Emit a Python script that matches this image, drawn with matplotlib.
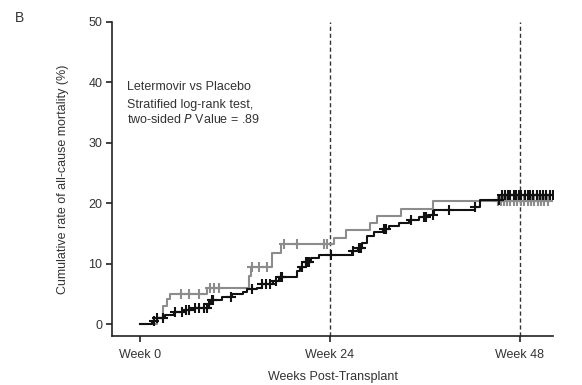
import numpy as np
import matplotlib.pyplot as plt

plt.rcParams['font.family'] = ['Liberation Sans', 'DejaVu Sans']

# Kaplan-Meier style cumulative mortality (%), step after each time
let_weeks = [0, 1.6, 2.2, 3.2, 4.3, 5.8, 7.0, 8.7, 9.0, 10.4, 11.7, 13.0, 13.6, 14.8,
             15.5, 16.8, 17.6, 19.8, 20.2, 21.0, 21.6, 22.7, 26.8, 27.5, 28.1, 28.7,
             29.6, 30.7, 31.5, 32.8, 34.0, 35.3, 36.4, 37.2, 42.3, 43.0, 45.7, 52.2]
let_rate = [0, 0.5, 1.0, 1.5, 2.0, 2.3, 2.7, 3.3, 3.9, 4.4, 4.9, 5.3, 5.8, 6.0,
            6.6, 7.2, 7.8, 8.7, 9.4, 10.2, 10.9, 11.5, 12.1, 12.6, 13.4, 14.6,
            15.2, 15.7, 16.3, 16.8, 17.2, 17.7, 18.1, 18.8, 19.4, 20.5, 21.4, 21.4]

pla_weeks = [0, 2.2, 3.0, 3.4, 3.8, 8.5, 13.8, 14.1, 16.7, 17.8, 24.5, 26.0, 29.1,
             30.0, 33.0, 37.0, 51.8]
pla_rate = [0, 1.0, 3.0, 4.1, 5.0, 6.0, 8.0, 9.5, 11.8, 13.2, 14.3, 15.6, 16.7,
            17.9, 19.0, 20.4, 20.4]

# censoring times
let_cens = [1.8, 2.2, 3.0, 4.5, 5.4, 5.8, 6.2, 7.0, 7.5, 8.1, 8.5, 8.8, 9.1, 9.2,
            11.5, 14.2, 15.5, 15.9, 16.5, 17.2, 17.8, 18.0, 20.5, 21.0, 21.2, 21.4,
            24.1, 26.9, 27.7, 27.9, 30.9, 31.1, 34.3, 35.9, 36.2, 37.0, 39.1, 42.3,
            45.4, 45.8, 46.1, 46.5, 46.8, 47.2, 47.5, 47.9, 48.2, 48.6, 49.0, 49.3,
            49.7, 50.1, 50.5, 50.9, 51.3, 51.8, 52.2]
pla_cens = [2.9, 5.2, 6.2, 7.5, 8.9, 9.4, 10.0, 14.2, 15.1, 16.1, 18.2, 19.9, 23.3,
            23.6, 45.2, 45.6, 46.0, 46.4, 46.8, 47.3, 47.7, 48.1, 48.5, 49.0, 49.4,
            49.8, 50.3, 50.7, 51.1, 51.5]

week_ticks = [0, 24, 48]
week_labels = ['Week 0', 'Week 24', 'Week 48']


def step_value(weeks, rate, t):
    i = np.searchsorted(weeks, t, side='right') - 1
    return np.asarray(rate)[np.clip(i, 0, len(rate) - 1)]


fig = plt.figure(figsize=(5.82, 3.85), dpi=100)
ax = fig.add_axes([0.1924, 0.127, 0.758, 0.816])

txt = '#333333'
for wk in week_ticks[1:]:
    ax.axvline(wk, color='#333333', ls=(0, (3, 2)), lw=1.0, zorder=1)

ax.step(pla_weeks, pla_rate, where='post', color='#8c8c8c', lw=1.5, zorder=2)
ax.plot(pla_cens, step_value(pla_weeks, pla_rate, pla_cens), ls='none',
        marker='+', ms=7, mew=1.5, color='#8c8c8c', zorder=2)
ax.step(let_weeks, let_rate, where='post', color='#111111', lw=1.5, zorder=3)
ax.plot(let_cens, step_value(let_weeks, let_rate, let_cens), ls='none',
        marker='+', ms=7, mew=1.5, color='#111111', zorder=3)

ax.set_xlim(-3.5, 52.2)
ax.set_ylim(-2, 50)
ax.set_yticks([0, 10, 20, 30, 40, 50])
ax.set_xticks(week_ticks)
ax.set_xticklabels(week_labels)
for s in ['top', 'right']:
    ax.spines[s].set_visible(False)
for s in ['left', 'bottom']:
    ax.spines[s].set_linewidth(1.2)
    ax.spines[s].set_color('#222222')
ax.tick_params(direction='out', length=4, width=1.2, labelsize=9, colors='#222222',
               labelcolor=txt)
ax.tick_params(axis='y', pad=3)
ax.tick_params(axis='x', pad=5.5)

ax.set_ylabel('Cumulative rate of all-cause mortality (%)', fontsize=9, color=txt, labelpad=14)
ax.set_xlabel('Weeks Post-Transplant', fontsize=9, color=txt, labelpad=7)

ax.text(0.035, 0.794, 'Letermovir vs Placebo', transform=ax.transAxes, fontsize=9,
        color=txt, va='center')
ax.text(0.035, 0.736, 'Stratified log-rank test,', transform=ax.transAxes, fontsize=9,
        color=txt, va='center')
ax.text(0.035, 0.690, 'two-sided $P$ Value = .89', transform=ax.transAxes, fontsize=9,
        color=txt, va='center')
fig.text(0.026, 0.953, 'B', fontsize=10, color=txt, va='center')

fig.savefig('out.png', dpi=100, facecolor='white')
